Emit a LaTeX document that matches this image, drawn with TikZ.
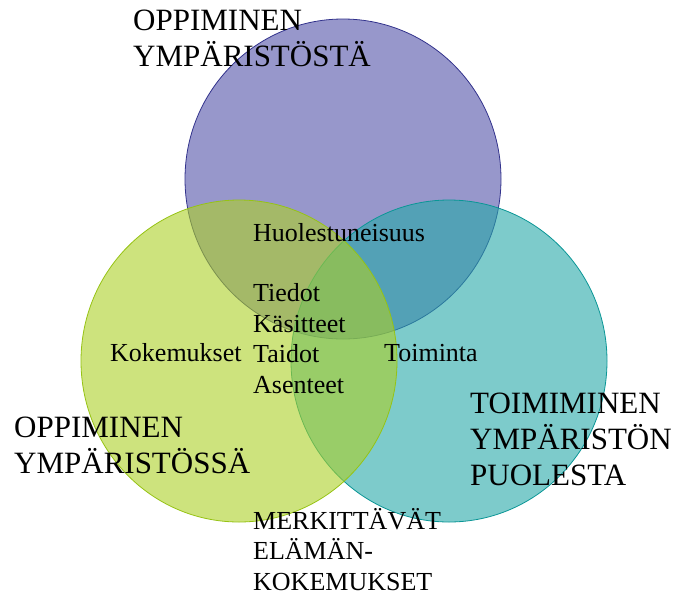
\documentclass[tikz,border=0pt]{standalone}
\usepackage{fontspec}
\setmainfont{Liberation Serif}
\usepackage{xcolor}
\usepackage{tikz}

\definecolor{topfill}{RGB}{82,82,168}
\definecolor{topline}{RGB}{50,50,140}
\definecolor{leftfill}{RGB}{172,208,38}
\definecolor{leftline}{RGB}{150,195,20}
\definecolor{rightfill}{RGB}{38,168,168}
\definecolor{rightline}{RGB}{10,150,150}

\begin{document}
\begin{tikzpicture}[
  x=1pt, y=-1pt,
  ring/.style={line width=0.8pt, fill opacity=0.6},
  big/.style={font=\fontsize{31}{36}\selectfont, align=left,
              anchor=base west, inner sep=0pt},
  small/.style={font=\fontsize{26}{30.5}\selectfont, align=left,
                anchor=base west, inner sep=0pt}
]
\useasboundingbox (0,0) rectangle (682,595);
% the three circles
\draw[ring, draw=topline, fill=topfill]     (343,179) ellipse [x radius=158, y radius=160];
\draw[ring, draw=rightline, fill=rightfill] (449,361) ellipse [x radius=158, y radius=161];
\draw[ring, draw=leftline, fill=leftfill]   (239,361) ellipse [x radius=158, y radius=161];
% circle titles (base = last line)
\node[big] (ymparistosta) at (133,66)  {OPPIMINEN\\YMPÄRISTÖSTÄ};
\node[big] (ymparistossa) at (14,473)  {OPPIMINEN\\YMPÄRISTÖSSÄ};
\node[big] (puolesta)     at (470,485) {TOIMIMINEN\\YMPÄRISTÖN\\PUOLESTA};
% overlap texts
\node[small] (huoli)    at (253,241) {Huolestuneisuus};
\node[small] (tiedot)   at (253,393) {Tiedot\\Käsitteet\\Taidot\\Asenteet};
\node[small] (kokemus)  at (110,361) {Kokemukset};
\node[small] (toiminta) at (384,361) {Toiminta};
\node[small] (elama)    at (253,590) {MERKITTÄVÄT\\ELÄMÄN-\\KOKEMUKSET};
\end{tikzpicture}
\end{document}
